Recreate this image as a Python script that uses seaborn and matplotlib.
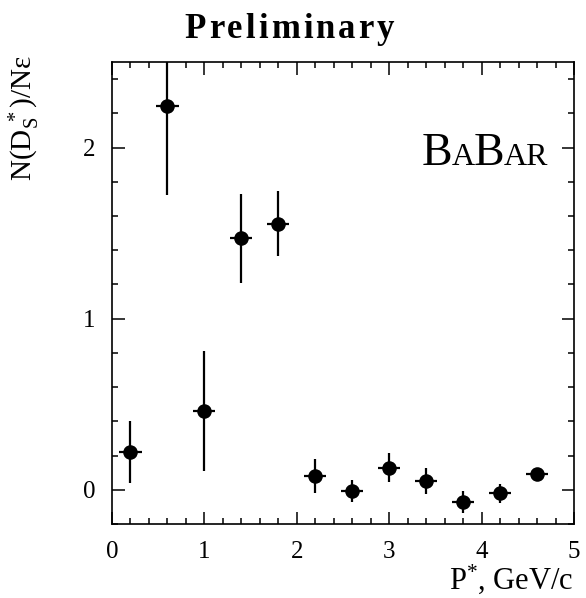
import matplotlib
matplotlib.use("Agg")
import matplotlib.pyplot as plt
from matplotlib.ticker import MultipleLocator
import seaborn as sns
import pandas as pd

# D_s* yield per momentum bin
p_star = [0.2, 0.6, 1.0, 1.4, 1.8, 2.2, 2.6, 3.0, 3.4, 3.8, 4.2, 4.6]
yield_norm = [0.22, 2.24, 0.46, 1.47, 1.555, 0.08, -0.005, 0.13, 0.05, -0.07, -0.02, 0.095]
yield_err = [0.18, 0.52, 0.35, 0.26, 0.19, 0.10, 0.065, 0.085, 0.075, 0.065, 0.055, 0.02]
p_half = 0.12

df = pd.DataFrame({"p": p_star, "y": yield_norm, "err": yield_err})

sns.set_theme(style="ticks")
plt.rcParams["font.family"] = ["Liberation Serif", "DejaVu Serif"]
plt.rcParams["mathtext.fontset"] = "custom"
plt.rcParams["mathtext.rm"] = "Liberation Serif"
plt.rcParams["mathtext.it"] = "Liberation Serif:italic"
plt.rcParams["text.color"] = "black"
plt.rcParams["xtick.color"] = "black"
plt.rcParams["ytick.color"] = "black"

fig = plt.figure(figsize=(5.86, 5.98), dpi=100)
ax = fig.add_axes([112 / 586, 74 / 598, 462 / 586, 462 / 598])

ax.errorbar(df["p"], df["y"], yerr=df["err"], xerr=p_half, fmt="none",
            ecolor="black", elinewidth=1.6, capsize=0, zorder=2)
sns.scatterplot(data=df, x="p", y="y", ax=ax, color="black", s=110,
                edgecolor="black", linewidth=0, zorder=3)

ax.set_xlim(0, 5)
ax.set_ylim(-0.2, 2.5)
ax.xaxis.set_major_locator(MultipleLocator(1))
ax.xaxis.set_minor_locator(MultipleLocator(0.2))
ax.yaxis.set_major_locator(MultipleLocator(1))
ax.yaxis.set_minor_locator(MultipleLocator(0.2))
ax.tick_params(which="both", direction="in", top=True, right=True,
               colors="black", labelsize=18, width=1.1)
ax.tick_params(which="major", length=9, pad=12)
ax.tick_params(which="minor", length=4.5)
for s in ax.spines.values():
    s.set_linewidth(1.2)
    s.set_color("black")

ax.set_xlabel("")
ax.set_ylabel("")
fig.text(574 / 586, 9 / 598, r"P$^{*}$, GeV/c", ha="right", va="baseline",
         fontsize=22)
fig.text(24 / 586, 1 - 118 / 598, r"N(D$_{\mathrm{S}}^{\ *}$)/Nε", rotation=90,
         ha="center", va="center", fontsize=21)

renderer = fig.canvas.get_renderer()


def spaced_text(s, x_start, y_base, size, gap, **kw):
    """Draw a string letter by letter with extra tracking (pixel coords)."""
    x = x_start
    for ch in s:
        t = fig.text(x / 586, 1 - y_base / 598, ch, fontsize=size,
                     ha="left", va="baseline", **kw)
        x += t.get_window_extent(renderer=renderer).width + gap
    return x


# Title, letter-spaced
title = "Preliminary"
probe = fig.text(0, 0, title, fontsize=25, weight="bold")
w = probe.get_window_extent(renderer=renderer).width
probe.remove()
gap = 3.0
total = w + gap * (len(title) - 1)
spaced_text(title, 289 - total / 2, 38, 25, gap, weight="bold")

# BaBar logo in small caps
x0, yb = 422, 165
for piece, size in [("B", 33), ("A", 23), ("B", 33), ("AR", 23)]:
    t = fig.text(x0 / 586, 1 - yb / 598, piece, fontsize=size,
                 ha="left", va="baseline")
    x0 += t.get_window_extent(renderer=renderer).width - 1

fig.savefig("out.png", dpi=100, facecolor="white")
